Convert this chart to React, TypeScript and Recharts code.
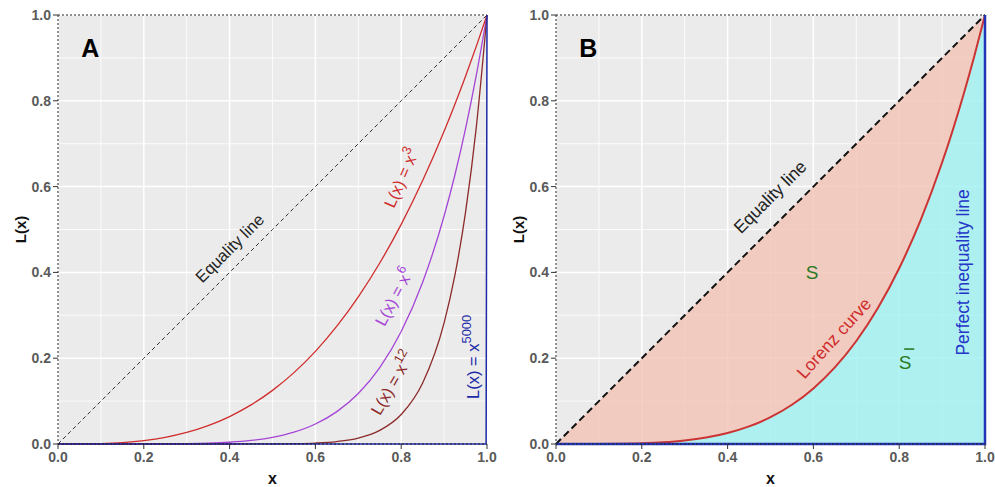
import React from "react";
import {
  Area,
  CartesianGrid,
  ComposedChart,
  Line,
  ReferenceDot,
  ReferenceLine,
  XAxis,
  YAxis,
} from "recharts";

// shared x grid for both panels
const X = [0, 0.05, 0.1, 0.15, 0.2, 0.25, 0.3, 0.35, 0.4, 0.45, 0.5, 0.55, 0.6, 0.65, 0.7, 0.75, 0.8, 0.85, 0.9, 0.925, 0.95, 0.975, 1];
const EQ = [0, 0.05, 0.1, 0.15, 0.2, 0.25, 0.3, 0.35, 0.4, 0.45, 0.5, 0.55, 0.6, 0.65, 0.7, 0.75, 0.8, 0.85, 0.9, 0.925, 0.95, 0.975, 1];
const P3 = [0, 0.0001, 0.001, 0.0034, 0.008, 0.0156, 0.027, 0.0429, 0.064, 0.0911, 0.125, 0.1664, 0.216, 0.2746, 0.343, 0.4219, 0.512, 0.6141, 0.729, 0.7914, 0.8574, 0.9269, 1];
const P6 = [0, 0, 0, 0, 0.0001, 0.0002, 0.0007, 0.0018, 0.0041, 0.0083, 0.0156, 0.0277, 0.0467, 0.0754, 0.1176, 0.178, 0.2621, 0.3771, 0.5314, 0.6264, 0.7351, 0.8591, 1];
const P12 = [0, 0, 0, 0, 0, 0, 0, 0, 0, 0.0001, 0.0002, 0.0008, 0.0022, 0.0057, 0.0138, 0.0317, 0.0687, 0.1422, 0.2824, 0.3924, 0.5404, 0.738, 1];
const LORENZ = [0, 0, 0.0001, 0.0005, 0.0016, 0.0039, 0.0081, 0.015, 0.0256, 0.041, 0.0625, 0.0915, 0.1296, 0.1785, 0.2401, 0.3164, 0.4096, 0.522, 0.6561, 0.7321, 0.8145, 0.9037, 1];

// nearly a step at x = 1
const X5000 = [0, 0.998, 1];
const P5000 = [0, 0, 1];
const PI_X = [0, 1, 1];
const PI_Y = [0, 0, 1];

const TICKS = [0, 0.2, 0.4, 0.6, 0.8, 1];
const MINOR = [0.1, 0.3, 0.5, 0.7, 0.9];

const rowsA = X.map((x, i) => ({ x, eq: EQ[i], p3: P3[i], p6: P6[i], p12: P12[i] }));
const rowsB = X.map((x, i) => ({ x, eq: EQ[i], lorenz: LORENZ[i], band: [LORENZ[i], EQ[i]] }));
const steepA = X5000.map((x, i) => ({ x, p5000: P5000[i] }));
const perfect = PI_X.map((x, i) => ({ x, pi: PI_Y[i] }));

const FONT = "'Liberation Sans', Arial, sans-serif";
const W = 497;
const H = 487;
const MARGIN = { top: 15, right: 10, bottom: 0, left: 0 };

function Tag(props: any) {
  const { viewBox, text, sup, angle = 0, color, size = 15, bold, bar } = props;
  const cx = viewBox.x + viewBox.width / 2;
  const cy = viewBox.y + viewBox.height / 2;
  return (
    <g transform={`rotate(${angle} ${cx} ${cy})`}>
      <text
        x={cx}
        y={cy}
        textAnchor="middle"
        dominantBaseline="central"
        fill={color}
        fontSize={size}
        fontWeight={bold ? 700 : 400}
        fontFamily={FONT}
      >
        {text}
        {sup && <tspan dy={-7} fontSize={size * 0.78}>{sup}</tspan>}
      </text>
      {/* overbar for S-bar */}
      {bar && <line x1={cx - 1} x2={cx + 9} y1={cy - 13} y2={cy - 13} stroke={color} strokeWidth={1.6} />}
    </g>
  );
}

const tag = (o: any) => ({ content: (p: any) => <Tag viewBox={p.viewBox} {...o} /> });

const yLabel = {
  content: (p: any) => {
    const vb = p.viewBox;
    const cx = vb.x + 20;
    const cy = vb.y + vb.height / 2;
    return (
      <text x={cx} y={cy} transform={`rotate(-90 ${cx} ${cy})`} textAnchor="middle" dominantBaseline="central"
        fontSize={15} fontWeight={700} fill="#111" fontFamily={FONT}>L(x)</text>
    );
  },
};

const tickStyle = { fill: "#5a5a5a", fontSize: 14, fontWeight: 700, fontFamily: FONT };
const fmt = (v: number) => v.toFixed(1);

function axes() {
  return [
    <CartesianGrid key="g1" fill="#ebebeb" stroke="#ffffff" strokeWidth={0.8}
      horizontalValues={MINOR} verticalValues={MINOR} />,
    <CartesianGrid key="g2" stroke="#ffffff" strokeWidth={1.5} fillOpacity={0}
      horizontalValues={TICKS} verticalValues={TICKS} />,
    <XAxis key="x" dataKey="x" type="number" domain={[0, 1]} ticks={TICKS} tickFormatter={fmt}
      height={43} tick={tickStyle} tickSize={5} tickMargin={3}
      tickLine={{ stroke: "#333" }} axisLine={{ stroke: "#222", strokeDasharray: "2 2" }}
      label={{ value: "x", position: "insideBottom", offset: 3, fontSize: 16, fontWeight: 700, fill: "#111", fontFamily: FONT }} />,
    <YAxis key="y" type="number" domain={[0, 1]} ticks={TICKS} tickFormatter={fmt}
      width={58} tick={tickStyle} tickSize={5} tickMargin={2}
      tickLine={{ stroke: "#333" }} axisLine={{ stroke: "#222", strokeDasharray: "2 2" }}
      label={yLabel} />,
    <ReferenceLine key="top" y={1} stroke="#222" strokeDasharray="2 2" />,
  ];
}

function PanelA() {
  return (
    <ComposedChart width={W} height={H} data={rowsA} margin={MARGIN}>
      {axes()}
      <Line dataKey="eq" type="linear" stroke="#333" strokeWidth={1} strokeDasharray="4 3" dot={false} activeDot={false} isAnimationActive={false} />
      <Line dataKey="p3" type="monotone" stroke="#d02c2c" strokeWidth={1.3} dot={false} activeDot={false} isAnimationActive={false} />
      <Line dataKey="p6" type="monotone" stroke="#a545d6" strokeWidth={1.3} dot={false} activeDot={false} isAnimationActive={false} />
      <Line dataKey="p12" type="monotone" stroke="#8c2a2a" strokeWidth={1.3} dot={false} activeDot={false} isAnimationActive={false} />
      <Line data={steepA} dataKey="p5000" type="linear" stroke="#1c2aa8" strokeWidth={1.5} dot={false} activeDot={false} isAnimationActive={false} />
      <ReferenceDot x={0.075} y={0.923} r={0} fill="none" stroke="none" label={tag({ text: "A", size: 25, bold: true, color: "#000" })} />
      <ReferenceDot x={0.4} y={0.457} r={0} fill="none" stroke="none" label={tag({ text: "Equality line", angle: -45, size: 16.5, color: "#222" })} />
      <ReferenceDot x={0.8} y={0.62} r={0} fill="none" stroke="none" label={tag({ text: "L(x) = x", sup: "3", angle: -66, size: 16.5, color: "#d02c2c" })} />
      <ReferenceDot x={0.783} y={0.343} r={0} fill="none" stroke="none" label={tag({ text: "L(x) = x", sup: "6", angle: -62, size: 16.5, color: "#a545d6" })} />
      <ReferenceDot x={0.779} y={0.142} r={0} fill="none" stroke="none" label={tag({ text: "L(x) = x", sup: "12", angle: -60, size: 16.5, color: "#8c2a2a" })} />
      <ReferenceDot x={0.967} y={0.203} r={0} fill="none" stroke="none" label={tag({ text: "L(x) = x", sup: "5000", angle: -90, size: 16.5, color: "#1c2aa8" })} />
    </ComposedChart>
  );
}

function PanelB() {
  return (
    <ComposedChart width={W} height={H} data={rowsB} margin={MARGIN}>
      {axes()}
      <Area dataKey="band" type="monotone" fill="#f3c3b4" fillOpacity={0.8} stroke="none" isAnimationActive={false} />
      <Area dataKey="lorenz" type="monotone" fill="#9ff0f0" fillOpacity={0.8} stroke="none" isAnimationActive={false} />
      <Line dataKey="eq" type="linear" stroke="#111" strokeWidth={2} strokeDasharray="7 4" dot={false} activeDot={false} isAnimationActive={false} />
      <Line dataKey="lorenz" type="monotone" stroke="#cc3333" strokeWidth={2} dot={false} activeDot={false} isAnimationActive={false} />
      <Line data={perfect} dataKey="pi" type="linear" stroke="#2436b8" strokeWidth={2.5} dot={false} activeDot={false} isAnimationActive={false} />
      <ReferenceDot x={0.075} y={0.923} r={0} fill="none" stroke="none" label={tag({ text: "B", size: 25, bold: true, color: "#000" })} />
      <ReferenceDot x={0.499} y={0.576} r={0} fill="none" stroke="none" label={tag({ text: "Equality line", angle: -45, size: 17.5, color: "#222" })} />
      <ReferenceDot x={0.597} y={0.399} r={0} fill="none" stroke="none" label={tag({ text: "S", size: 19, color: "#2a7a24" })} />
      <ReferenceDot x={0.648} y={0.247} r={0} fill="none" stroke="none" label={tag({ text: "Lorenz curve", angle: -48, size: 17.5, color: "#d02c2c" })} />
      <ReferenceDot x={0.814} y={0.191} r={0} fill="none" stroke="none" label={tag({ text: "S", size: 19, color: "#2a7a24", bar: true })} />
      <ReferenceDot x={0.949} y={0.4} r={0} fill="none" stroke="none" label={tag({ text: "Perfect inequality line", angle: -90, size: 17.5, color: "#2436c8" })} />
    </ComposedChart>
  );
}

export default function App() {
  return (
    <div style={{ position: "absolute", left: 0, top: 0, width: 995, height: 487, background: "#fff", fontFamily: FONT }}>
      <div style={{ position: "absolute", left: 0, top: 0 }}>
        <PanelA />
      </div>
      <div style={{ position: "absolute", left: 498, top: 0 }}>
        <PanelB />
      </div>
    </div>
  );
}
